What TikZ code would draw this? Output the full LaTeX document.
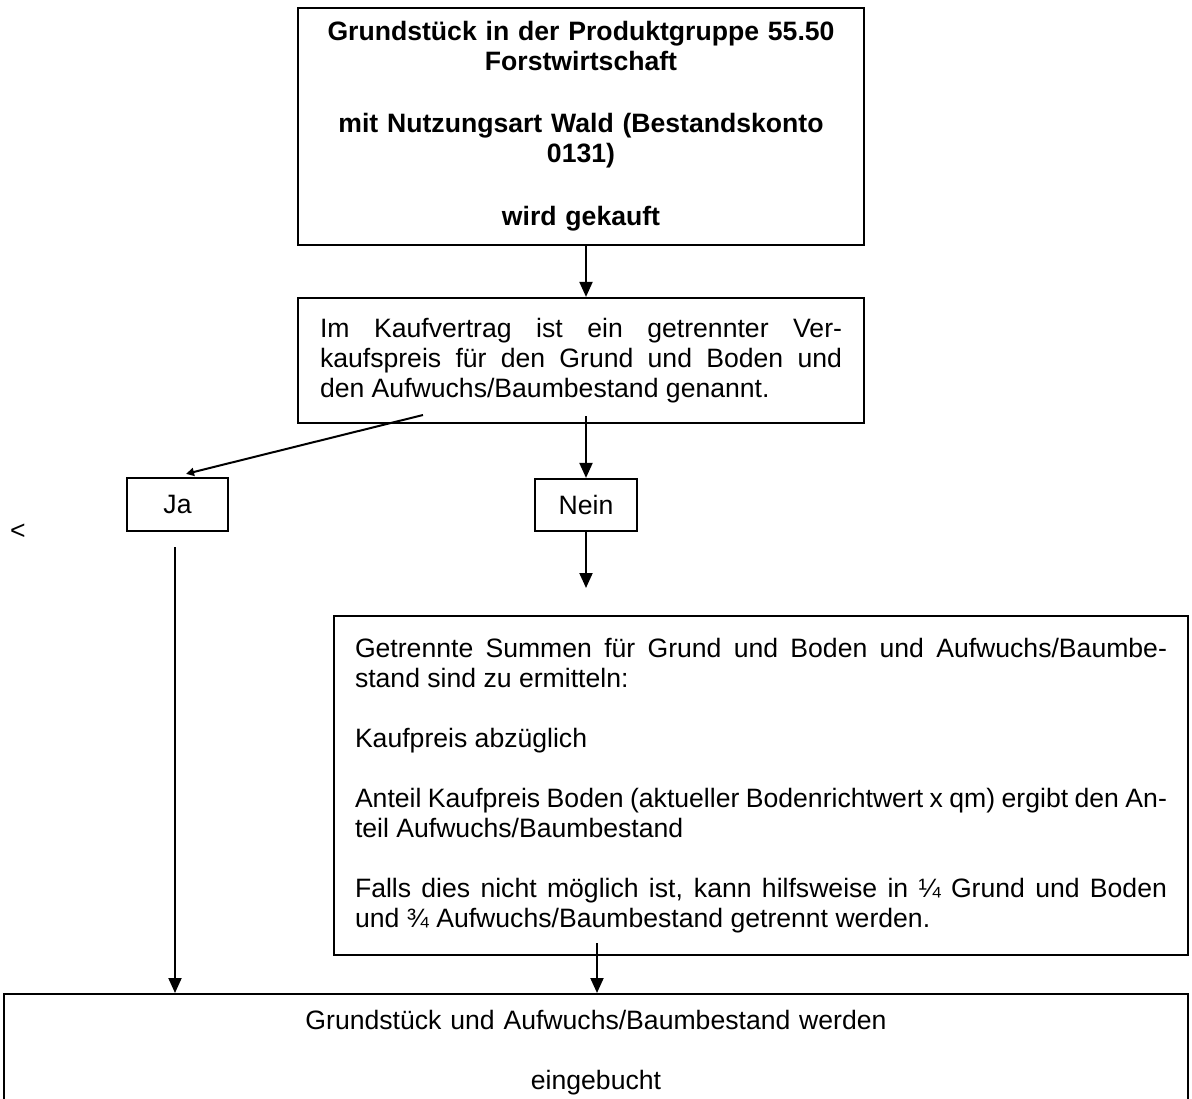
\documentclass[tikz,border=0pt]{standalone}
\usepackage{fontspec}
\setmainfont{Liberation Sans}
\usetikzlibrary{arrows.meta}
\begin{document}
\begin{tikzpicture}[x=1pt,y=-1pt,
  every node/.style={font=\fontsize{26.6pt}{30pt}\selectfont, inner sep=0pt},
  box/.style={draw, line width=2.2pt, rectangle},
  para/.style={execute at begin node={\tolerance=10000\hbadness=10000\hyphenpenalty=10000\exhyphenpenalty=10000}},
  arr/.style={line width=2pt, -{Triangle[length=15pt,width=13pt]}},
  arrsmall/.style={line width=2pt, -{Triangle[length=8pt,width=8pt]}}]
\clip (0,0) rectangle (1192,1099);
\fill[white] (0,0) rectangle (1192,1099);

\node[box, minimum width=566, minimum height=237, text width=550, align=center,
      font=\fontsize{26.6pt}{30pt}\selectfont\bfseries] (top) at (581,126.5)
  {Grundstück in der Produktgruppe 55.50\\Forstwirtschaft\\[32pt]mit Nutzungsart Wald (Bestandskonto\\0131)\\[33pt]wird gekauft};

\node[box, para, minimum width=566, minimum height=125, text width=522, align=justify] (kv) at (581,360.5)
  {Im Kaufvertrag ist ein getrennter Ver-\linebreak kaufspreis für den Grund und Boden und\linebreak den Aufwuchs/Baumbestand genannt.};

\node[box, minimum width=101, minimum height=53] (ja) at (177.5,504.5) {Ja};
\node[box, minimum width=102, minimum height=52] (nein) at (586,505) {Nein};
\node (lt) at (18,532) {<};

\node[box, para, minimum width=854, minimum height=339, text width=812, align=justify] (calc) at (761,785.5)
  {Getrennte Summen für Grund und Boden und Aufwuchs/Baumbe-\linebreak stand sind zu ermitteln:\\[30pt]Kaufpreis abzüglich\\[30pt]Anteil Kaufpreis Boden (aktueller Bodenrichtwert x qm) ergibt den An-\linebreak teil Aufwuchs/Baumbestand\\[30pt]Falls dies nicht möglich ist, kann hilfsweise in ¼ Grund und Boden\linebreak und ¾ Aufwuchs/Baumbestand getrennt werden.};

\node[box, anchor=north, minimum width=1184, text width=1150, align=center, inner ysep=16pt] (book) at (596,993)
  {Grundstück und Aufwuchs/Baumbestand werden\\[30pt]eingebucht};

\draw[arr] ([xshift=5pt]top.south) -- ([xshift=5pt]kv.north);
\coordinate (jaS) at (423,415);
\draw[arrsmall] (jaS) -- ([xshift=8.5pt,yshift=3pt]ja.north);
\coordinate (neinS) at (586,416);
\draw[arr] (neinS) -- (nein.north);
\coordinate (neinE) at (586,588);
\draw[arr] (nein.south) -- (neinE);
\coordinate (jaD) at (175,547);
\draw[arr] (jaD) -- (jaD |- book.north);
\coordinate (calcS) at (597,943);
\draw[arr] (calcS) -- (calcS |- book.north);
\end{tikzpicture}
\end{document}
